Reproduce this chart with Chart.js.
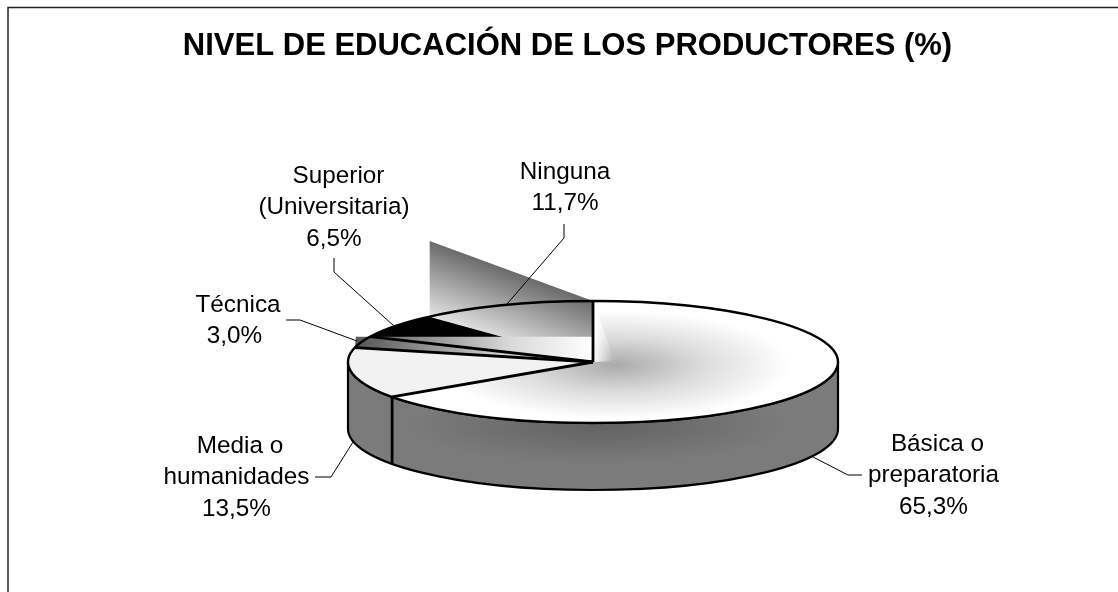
<!DOCTYPE html>
<html>
<head>
<meta charset="utf-8">
<script src="https://cdn.jsdelivr.net/npm/chart.js@4"></script>
<style>
  html, body { margin: 0; padding: 0; background: #fff; overflow: hidden; }
  canvas { display: block; }
</style>
</head>
<body>
<canvas id="educacion" width="1118" height="592"></canvas>
<script>
const titulo = 'NIVEL DE EDUCACIÓN DE LOS PRODUCTORES (%)';
const categorias = [['Básica o', 'preparatoria'], ['Media o', 'humanidades'], ['Técnica'], ['Superior', '(Universitaria)'], ['Ninguna']];
const porcentajes = [65.3, 13.5, 3.0, 6.5, 11.7];
const coloresBase = ['#ffffff', '#f2f2f2', '#999999', '#000000', '#aaaaaa'];

// ellipse of the tilted pie on the page
const CX = 593, CY = 362, RX = 245, RY = 61, DEPTH = 67;

// label centre x, first line baseline, first line nudge, then leader line points
const rotulos = [
  { x: 933.5, y: 451, dx: 4, guia: [[813, 457], [848, 475], [862, 475]] },
  { x: 236.5, y: 453, dx: 3.5, guia: [[353, 442], [331, 477], [315, 477]] },
  { x: 234.5, y: 312, dx: 3.5, guia: [[357, 341], [300, 320], [286, 320]] },
  { x: 334, y: 183, dx: 4.5, guia: [[394, 326], [334, 272], [334, 258]] },
  { x: 565, y: 179, dx: 0, guia: [[507, 304], [564, 238], [564, 224]] }
];

function punto(ang, dy) {
  return [CX + RX * Math.cos(ang), CY + RY * Math.sin(ang) + (dy || 0)];
}

function cuna(ctx, arc) {
  ctx.beginPath();
  ctx.moveTo(CX, CY);
  ctx.ellipse(CX, CY, RX, RY, 0, arc.startAngle, arc.endAngle);
  ctx.closePath();
}

const pastel3d = {
  id: 'pastel3d',
  beforeDraw(chart) {
    const ctx = chart.ctx;
    ctx.save();
    ctx.strokeStyle = '#222';
    ctx.lineWidth = 1.5;
    ctx.beginPath();
    ctx.moveTo(8, 592);
    ctx.lineTo(8, 7.5);
    ctx.lineTo(1118, 7.5);
    ctx.stroke();
    ctx.restore();
  },
  beforeDatasetsDraw(chart) {
    const ctx = chart.ctx;
    const arcs = chart.getDatasetMeta(0).data;

    // side wall
    ctx.save();
    ctx.beginPath();
    ctx.ellipse(CX, CY, RX, RY, 0, Math.PI, 0, true);
    ctx.lineTo(CX + RX, CY + DEPTH);
    ctx.ellipse(CX, CY + DEPTH, RX, RY, 0, 0, Math.PI);
    ctx.closePath();
    ctx.save();
    ctx.translate(CX + 5, CY + 63);
    ctx.scale(1, 0.2);
    const pared = ctx.createRadialGradient(0, 0, 0, 0, 0, 190);
    pared.addColorStop(0, '#626262');
    pared.addColorStop(1, '#7b7b7b');
    ctx.fillStyle = pared;
    ctx.fill();
    ctx.restore();
    ctx.lineWidth = 2.2;
    ctx.strokeStyle = '#000';
    ctx.stroke();
    ctx.restore();

    // tilt the library's own arcs into the ellipse
    const a = arcs[0];
    ctx.save();
    ctx.translate(CX, CY);
    ctx.scale(RX / a.outerRadius, RY / a.outerRadius);
    ctx.translate(-a.x, -a.y);
  },
  afterDatasetsDraw(chart) {
    const ctx = chart.ctx;
    const arcs = chart.getDatasetMeta(0).data;
    ctx.restore();

    const basica = arcs[0], media = arcs[1], tecnica = arcs[2], superior = arcs[3], ninguna = arcs[4];
    const pTecIni = punto(tecnica.startAngle);
    const pTecFin = punto(tecnica.endAngle);
    const pSup = punto(superior.endAngle);
    const pTop = punto(ninguna.endAngle);

    // shading of the large slice
    ctx.save();
    cuna(ctx, basica);
    ctx.translate(CX + 22, CY + 3);
    ctx.scale(1, 0.31);
    const brillo = ctx.createRadialGradient(0, 0, 0, 0, 0, 175);
    brillo.addColorStop(0, '#aaaaaa');
    brillo.addColorStop(0.5, '#dcdcdc');
    brillo.addColorStop(1, '#ffffff');
    ctx.fillStyle = brillo;
    ctx.fill();
    ctx.restore();

    // pale sliver next to the vertical edge
    ctx.save();
    ctx.beginPath();
    ctx.moveTo(CX, pTop[1]);
    ctx.lineTo(CX + 22, CY - 1);
    ctx.lineTo(CX, CY);
    ctx.closePath();
    const g0 = ctx.createLinearGradient(CX, 0, CX + 20, 0);
    g0.addColorStop(0, 'rgba(255,255,255,1)');
    g0.addColorStop(1, 'rgba(255,255,255,0)');
    ctx.fillStyle = g0;
    ctx.fill();
    ctx.restore();

    // Ninguna gradient spills above the rim
    ctx.save();
    ctx.beginPath();
    ctx.moveTo(pTop[0], pTop[1]);
    ctx.lineTo(pSup[0] + 1, pTop[1] - 60);
    ctx.lineTo(pSup[0] + 1, pSup[1]);
    ctx.lineTo(CX, CY);
    ctx.closePath();
    const g1 = ctx.createLinearGradient(512, 271, 487, 338);
    g1.addColorStop(0, '#6a6a6a');
    g1.addColorStop(1, '#e4e4e4');
    ctx.fillStyle = g1;
    ctx.fill();
    ctx.restore();

    // black wedge sits over that
    ctx.save();
    cuna(ctx, superior);
    ctx.fillStyle = '#000';
    ctx.fill();
    ctx.restore();

    // horizontal band over the small slices
    ctx.save();
    ctx.beginPath();
    ctx.moveTo(pTecIni[0] + 1, pTecFin[1]);
    ctx.lineTo(CX, pTecFin[1]);
    ctx.lineTo(CX, CY);
    ctx.lineTo(pTecIni[0], pTecIni[1]);
    ctx.closePath();
    const g2 = ctx.createLinearGradient(pTecIni[0], 0, CX, 0);
    g2.addColorStop(0, '#555555');
    g2.addColorStop(0.65, '#d8d8d8');
    g2.addColorStop(1, '#ffffff');
    ctx.fillStyle = g2;
    ctx.fill();
    ctx.restore();

    // outlines
    ctx.save();
    ctx.strokeStyle = '#000';
    ctx.lineWidth = 2.4;
    ctx.lineJoin = 'round';
    ctx.beginPath();
    ctx.ellipse(CX, CY, RX, RY, 0, 0, Math.PI * 2);
    ctx.stroke();
    ctx.lineWidth = 2.8;
    [basica.startAngle, basica.endAngle, tecnica.startAngle, tecnica.endAngle].forEach(function (ang) {
      const p = punto(ang);
      ctx.beginPath();
      ctx.moveTo(CX, CY);
      ctx.lineTo(p[0], p[1]);
      ctx.stroke();
    });
    const s = punto(basica.endAngle);
    ctx.beginPath();
    ctx.moveTo(s[0], s[1]);
    ctx.lineTo(s[0], s[1] + DEPTH);
    ctx.stroke();
    ctx.restore();

    // leaders and labels
    ctx.save();
    ctx.strokeStyle = '#000';
    ctx.lineWidth = 1;
    ctx.fillStyle = '#000';
    ctx.font = '24.3px "Liberation Sans"';
    ctx.textAlign = 'center';
    ctx.textBaseline = 'alphabetic';
    rotulos.forEach(function (r, i) {
      ctx.beginPath();
      r.guia.forEach(function (p, j) {
        if (j === 0) ctx.moveTo(p[0], p[1]); else ctx.lineTo(p[0], p[1]);
      });
      ctx.stroke();
      const lineas = categorias[i].concat(porcentajes[i].toFixed(1).replace('.', ',') + '%');
      lineas.forEach(function (t, k) {
        ctx.fillText(t, r.x + (k === 0 ? r.dx : 0), r.y + k * 31.3);
      });
    });
    ctx.restore();
  }
};

new Chart(document.getElementById('educacion'), {
  type: 'pie',
  data: {
    labels: categorias.map(function (c) { return c.join(' '); }),
    datasets: [{
      data: porcentajes,
      backgroundColor: coloresBase,
      borderWidth: 0,
      clip: false
    }]
  },
  options: {
    responsive: false,
    animation: false,
    events: [],
    layout: { padding: { top: 28, bottom: 60, left: 17, right: 0 } },
    plugins: {
      legend: { display: false },
      tooltip: { enabled: false },
      title: {
        display: true,
        text: titulo,
        color: '#000',
        font: { family: '"Liberation Sans"', size: 31, weight: 'bold' },
        padding: { top: 0, bottom: 20 }
      }
    }
  },
  plugins: [pastel3d]
});
</script>
</body>
</html>
